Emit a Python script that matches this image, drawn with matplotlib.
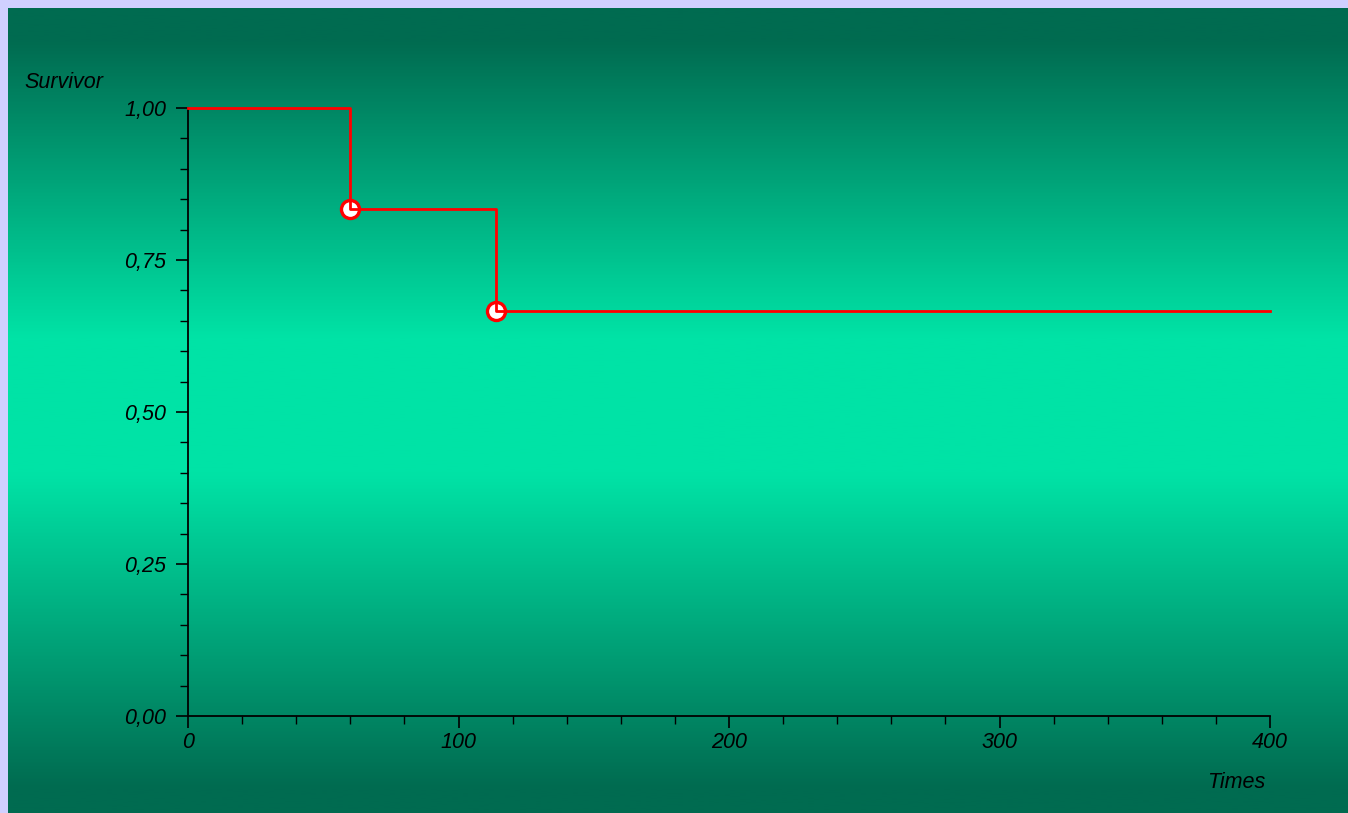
import numpy as np
import matplotlib
matplotlib.use("Agg")
import matplotlib.pyplot as plt
from matplotlib.colors import LinearSegmentedColormap
from matplotlib.ticker import MultipleLocator, FuncFormatter

# Data (Kaplan-Meier survival estimate)
times = [0, 60, 114, 400]
survival = [1.0, 0.8333, 0.6667, 0.6667]
event_times = [60, 114]
event_surv = [0.8333, 0.6667]

x_ticks = [0, 100, 200, 300, 400]
y_ticks = [0.0, 0.25, 0.5, 0.75, 1.0]

W, H = 1348, 813
fig = plt.figure(figsize=(W / 100, H / 100), dpi=100)
fig.patch.set_facecolor("#D0D0FF")

# gradient background
bg = fig.add_axes([8 / W, 0, 1 - 8 / W, 1 - 8 / H])
bg.set_axis_off()
dark = np.array([0x00, 0x6B, 0x50]) / 255
bright = np.array([0x00, 0xE3, 0xA6]) / 255
cmap = LinearSegmentedColormap.from_list(
    "g", [(0.0, dark), (0.04, dark), (0.41, bright), (0.58, bright), (0.97, dark), (1.0, dark)]
)
grad = np.linspace(0, 1, 512).reshape(-1, 1)
bg.imshow(grad, aspect="auto", cmap=cmap, extent=[0, 1, 0, 1], origin="upper")
bg.set_xlim(0, 1)
bg.set_ylim(0, 1)

ax = fig.add_axes([188 / W, 1 - 716 / H, (1270 - 188) / W, (716 - 108) / H])
ax.patch.set_alpha(0)
ax.set_xlim(0, 400)
ax.set_ylim(0, 1)
for s in ["top", "right"]:
    ax.spines[s].set_visible(False)
for s in ["left", "bottom"]:
    ax.spines[s].set_linewidth(1.3)
    ax.spines[s].set_color("black")

ax.plot(event_times, event_surv, "o", ms=13, mfc="white", mec="red", mew=2.4, zorder=3, clip_on=False)
ax.step(times, survival, where="post", color="red", lw=2, zorder=4, clip_on=False)

ax.set_xticks(x_ticks)
ax.set_yticks(y_ticks)
ax.xaxis.set_minor_locator(MultipleLocator(20))
ax.yaxis.set_minor_locator(MultipleLocator(0.05))
ax.yaxis.set_major_formatter(FuncFormatter(lambda v, p: f"{v:.2f}".replace(".", ",")))
ax.xaxis.set_major_formatter(FuncFormatter(lambda v, p: f"{v:.0f}"))
ax.tick_params(which="major", length=8.5, width=1.2, color="black")
ax.tick_params(which="minor", length=5.5, width=1.0, color="black")
ax.tick_params(axis="x", which="major", pad=3)
ax.tick_params(axis="y", which="major", pad=7)
for lab in ax.get_xticklabels() + ax.get_yticklabels():
    lab.set_fontstyle("italic")
    lab.set_fontsize(15.5)
    lab.set_fontfamily("Liberation Sans")

fig.text(24 / W, 1 - 82 / H, "Survivor", fontsize=15.5, style="italic",
         family="Liberation Sans", ha="left", va="center")
fig.text(1265 / W, 1 - 782 / H, "Times", fontsize=15.5, style="italic",
         family="Liberation Sans", ha="right", va="center")

fig.savefig("out.png", dpi=100, facecolor=fig.get_facecolor())
